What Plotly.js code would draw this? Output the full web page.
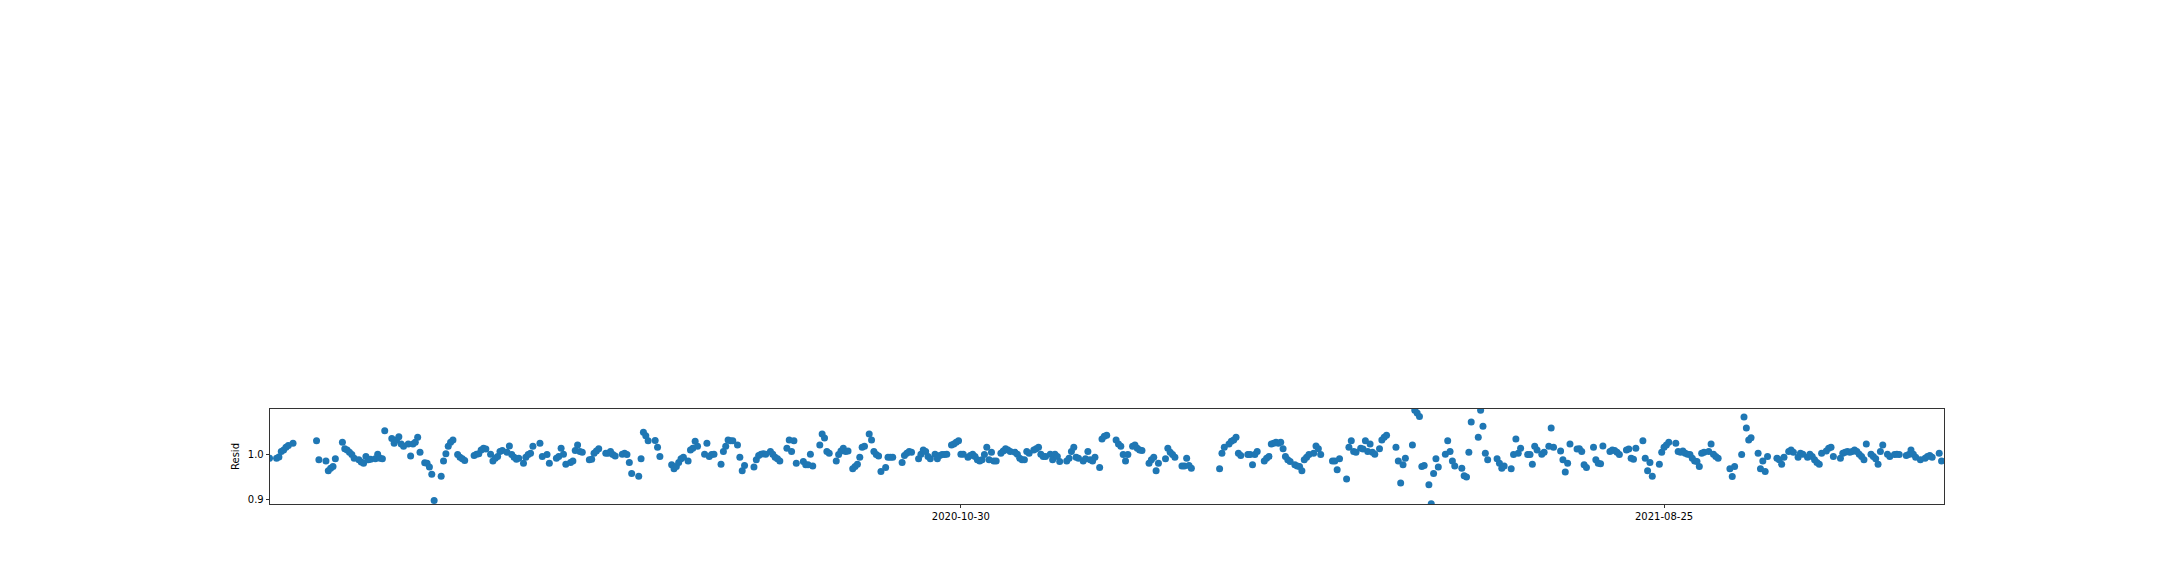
<!DOCTYPE html>
<html>
<head>
<meta charset="utf-8">
<script src="https://cdn.plot.ly/plotly-3.0.1.min.js"></script>
<style>
  html, body { margin: 0; padding: 0; background: #fff; }
  #residChart { width: 2160px; height: 576px; }
</style>
</head>
<body>
<div id="residChart"></div>
<script>
    // --- DATA: residual component (multiplicative decomposition) ---
    // dates are kept as day numbers counted from startDate
    const startDate = '2020-01-10';

    const residDays = [
        0, 3, 4, 5, 6, 7, 8, 10,
        20, 21, 24, 25, 26, 27, 28,
        31, 32, 33, 34, 35, 36,
        38, 39, 40, 41, 42, 43,
        45, 46, 47, 48, 49,
        52, 53, 54, 55, 56, 57,
        59, 60, 61, 62, 63, 64,
        66, 67, 68, 69, 70,
        73, 74, 75, 76, 77, 78,
        80, 81, 82, 83,
        87, 88, 89, 90, 91, 92,
        94, 95, 96, 97, 98, 99,
        101, 102, 103, 104, 105, 106,
        108, 109, 110, 111, 112,
        115, 116, 118, 119,
        122, 123, 124, 125, 126,
        128, 129, 130, 131, 132, 133,
        136, 137, 138, 139, 140,
        143, 144, 145, 146, 147,
        150, 151, 152, 153, 154,
        157, 158, 159, 160, 161,
        164, 165, 166,
        171, 172, 173, 174, 175, 176,
        178, 179, 180, 181, 182,
        185, 186, 187, 188, 189,
        192, 193, 194, 195, 196, 197,
        199, 200, 201, 202,
        206, 207, 208, 209, 210, 211,
        213, 214, 215, 216, 217,
        220, 221, 222, 223, 224,
        227, 228, 229, 230, 231,
        234, 235, 236, 237,
        238, 241, 242, 243, 244, 245, 246,
        248, 249, 250, 251, 252, 253,
        255, 256, 257, 258, 259, 260,
        262, 263, 264, 265,
        269, 270, 271, 272, 273,
        276, 277, 278, 279, 280, 281,
        283, 284, 285, 286, 287, 288,
        290, 291, 292, 293, 294, 295,
        297, 298, 299, 300, 301, 302,
        303, 304, 305, 306, 307, 308, 309,
        311, 312, 313, 314, 315,
        317, 318, 319, 320, 321, 322, 323,
        325, 326, 327, 328, 329, 330,
        332, 333, 334, 335, 336,
        339, 340, 341, 342, 343, 344,
        346, 347, 348, 349, 350, 351,
        353, 354, 355, 356,
        360, 361, 362, 363, 364, 365,
        367, 368, 369, 370, 371,
        374, 375, 376, 377, 378,
        381, 382, 383, 384, 385,
        388, 389, 390, 391, 392,
        404, 405, 406,
        408, 409, 410, 411, 412, 413,
        416, 417, 418, 419, 420,
        423, 424, 425, 426, 427, 428, 429, 430, 431, 432, 433, 434,
        436, 437, 438, 439, 440, 441, 442,
        444, 445, 446, 447,
        452, 453, 454, 455,
        458, 459, 460, 461, 462,
        464, 465, 466, 467, 468, 469, 470,
        472, 473, 474, 475,
        479, 480, 481, 482, 483,
        486, 487, 488, 489, 490, 491,
        493, 494, 495, 496, 497,
        500, 501, 502, 503, 504,
        507, 508, 509, 510, 511,
        514, 515, 516, 517, 518,
        522, 523, 524, 525,
        528, 529, 530, 531, 532,
        535, 536, 537, 538, 539,
        541, 542, 544, 545, 546,
        549, 550, 551, 552, 553,
        556, 557, 558, 559, 560,
        563, 564, 565, 566, 567,
        570, 571, 572, 573, 574,
        577, 578, 579, 580, 581,
        584, 585, 586, 587, 588,
        591, 592, 593, 594, 595,
        598, 599, 600, 601, 602, 603,
        604, 605, 606, 607, 608, 609, 610,
        612, 613, 614, 615, 616,
        621, 622, 623,
        626, 627, 628, 629, 630,
        633, 634, 635, 636, 637,
        641, 642, 643, 644,
        646, 647, 648, 650, 651, 652,
        654, 655, 656, 657, 658, 659,
        660, 662, 663, 664, 665,
        668, 669, 670, 671, 672, 673, 674, 675, 676, 677, 678, 679,
        681, 682, 683, 684, 685, 686,
        688, 689, 691, 692, 693,
        696, 697, 698, 699, 700,
        702, 704, 705, 706, 707,
        710, 711
    ];

    const residValues = [
        0.991, 0.991, 0.994, 1.006, 1.009, 1.015, 1.019, 1.024,
        1.029, 0.988, 0.985, 0.964, 0.969, 0.973, 0.990,
        1.026, 1.012, 1.009, 1.004, 0.999, 0.991,
        0.988, 0.983, 0.980, 0.995, 0.988, 0.989,
        0.990, 1.000, 0.991, 0.990, 1.051,
        1.034, 1.024, 1.031, 1.038, 1.022, 1.017,
        1.022, 0.996, 1.022, 1.026, 1.037, 1.004,
        0.981, 0.980, 0.972, 0.956, 0.899,
        0.952, 0.985, 1.001, 1.017, 1.026, 1.031,
        0.999, 0.993, 0.990, 0.986,
        0.997, 1.000, 1.001, 1.009, 1.013, 1.011,
        1.000, 0.985, 0.991, 0.995, 1.006, 1.008,
        1.004, 1.018, 0.999, 0.993, 0.989, 0.991,
        0.980, 0.993, 0.999, 1.002, 1.017,
        1.024, 0.995, 0.999, 0.980,
        0.991, 0.995, 1.013, 1.000, 0.978,
        0.982, 0.985, 1.008, 1.020, 1.006, 1.004,
        0.988, 0.989, 1.002, 1.007, 1.012,
        1.002, 1.002, 1.006, 0.999, 0.996,
        1.000, 1.002, 0.999, 0.982, 0.958,
        0.952, 0.990, 1.048, 1.040, 1.029,
        1.030, 1.015, 0.995,
        0.977, 0.968, 0.973, 0.982, 0.990, 0.993,
        0.985, 1.009, 1.013, 1.028, 1.017,
        1.000, 1.024, 0.995, 0.999, 1.000,
        0.978, 1.006, 1.017, 1.031, 1.029, 1.029,
        1.020, 0.993, 0.964, 0.975,
        0.972, 0.988, 0.997, 1.000, 1.001, 1.000,
        1.006, 1.000, 0.993, 0.990, 0.985,
        1.013, 1.031, 1.006, 1.029, 0.980,
        0.984, 0.977, 0.977, 1.000, 0.974,
        1.020, 1.044, 1.035, 1.006,
        1.002, 0.985, 0.999, 1.007, 1.013, 1.006, 1.007,
        0.968, 0.973, 0.978, 0.993, 1.015, 1.017,
        1.044, 1.031, 1.006, 0.999, 0.996, 0.962,
        0.971, 0.993, 0.993, 0.993,
        0.982, 0.997, 1.002, 1.006, 1.004,
        0.990, 1.000, 1.009, 1.006, 0.995, 0.990,
        1.000, 0.990, 0.997, 0.999, 0.999, 1.000,
        1.020, 1.022, 1.026, 1.029, 1.000, 1.000,
        0.993, 0.997, 1.000, 0.995, 0.988, 0.985,
        0.988, 0.999, 1.015, 0.988, 1.004, 0.985, 0.985,
        1.002, 1.007, 1.012, 1.009, 1.006,
        1.004, 1.000, 0.991, 0.988, 0.988, 1.006, 1.002,
        1.009, 1.012, 1.015, 1.000, 0.995, 0.995,
        1.000, 0.988, 1.000, 0.995, 0.984,
        0.985, 0.991, 1.006, 1.015, 0.993, 0.991,
        0.985, 0.990, 1.006, 0.988, 0.985, 0.993,
        0.971, 1.033, 1.039, 1.041,
        1.031, 1.022, 1.017, 0.999, 0.985, 0.999,
        1.017, 1.020, 1.013, 1.009, 1.008,
        0.980, 0.988, 0.993, 0.964, 0.980,
        0.990, 1.013, 1.004, 0.999, 0.993,
        0.974, 0.974, 0.991, 0.975, 0.969,
        0.968, 1.002, 1.015,
        1.022, 1.028, 1.031, 1.037, 1.002, 0.997,
        0.999, 0.999, 0.977, 0.999, 1.006,
        0.985, 0.991, 0.995, 1.022, 1.024, 1.026, 1.024, 1.026, 1.012, 0.995, 0.988, 0.984,
        0.977, 0.974, 0.973, 0.964, 0.988, 0.993, 0.999,
        1.002, 1.018, 1.012, 0.999,
        0.985, 0.985, 0.966, 0.990,
        0.946, 1.015, 1.029, 1.006, 1.004,
        1.013, 1.011, 1.029, 1.006, 1.022, 1.004, 1.000,
        1.012, 1.031, 1.037, 1.041,
        1.015, 0.985, 0.937, 0.977, 0.991,
        1.020, 1.096, 1.090, 1.082, 0.973, 0.975,
        0.933, 0.892, 0.958, 0.990, 0.972,
        1.000, 1.029, 1.006, 0.985, 0.974,
        0.969, 0.953, 0.950, 1.004, 1.070,
        1.037, 1.096, 1.061, 1.002, 0.988,
        0.990, 0.980, 0.969, 0.974,
        0.968, 0.999, 1.033, 1.002, 1.013,
        0.999, 0.999, 0.978, 1.017, 1.009,
        1.000, 1.004, 1.017, 1.057, 1.015,
        1.007, 0.988, 0.961, 0.980, 1.022,
        1.011, 1.012, 1.006, 0.977, 0.971,
        1.015, 0.988, 0.980, 0.979, 1.018,
        1.006, 1.009, 1.008, 1.004, 0.999,
        1.009, 1.011, 0.991, 0.989, 1.013,
        1.029, 0.991, 0.964, 0.982, 0.952,
        0.978, 1.004, 1.015, 1.020, 1.026,
        1.024, 1.006, 1.004, 1.007, 1.002, 1.000,
        0.999, 0.991, 0.985, 0.984, 0.973, 1.002, 1.004,
        1.006, 1.022, 1.000, 0.995, 0.991,
        0.968, 0.951, 0.973,
        0.999, 1.081, 1.057, 1.031, 1.036,
        1.002, 0.968, 0.985, 0.962, 0.995,
        0.991, 0.988, 0.978, 0.993,
        1.006, 1.009, 1.004, 0.993, 1.002, 1.000,
        0.993, 1.000, 0.995, 0.988, 0.982, 0.978,
        1.002, 1.007, 1.013, 1.015, 0.995,
        0.991, 1.002, 1.004, 1.006, 1.004, 1.006, 1.009, 1.006, 1.000, 0.995, 0.988, 1.022,
        1.000, 0.995, 0.990, 0.978, 1.006, 1.020,
        1.000, 0.995, 0.999, 1.000, 0.999,
        0.997, 0.999, 1.009, 1.000, 0.993,
        0.988, 0.991, 0.995, 0.997, 0.993,
        1.002, 0.985
    ];

    const xTickDates = ['2020-10-30', '2021-08-25'];
    const yTickValues = [0.9, 1.0];
    const yTickLabels = ['0.9', '1.0'];

    // --- UTILITY: day number -> ISO date ---
    function dayToDate(n) {
        const t0 = Date.parse(startDate + 'T00:00:00Z');
        return new Date(t0 + n * 86400000).toISOString().slice(0, 10);
    }

    const residDates = residDays.map(dayToDate);

    const axisFont = { family: 'DejaVu Sans, sans-serif', size: 10, color: '#000000' };

    const residTrace = {
        type: 'scatter',
        mode: 'markers',
        x: residDates,
        y: residValues,
        marker: { color: '#1f77b4', size: 7, line: { width: 0 } },
        cliponaxis: true,
        hoverinfo: 'x+y'
    };

    const residLayout = {
        width: 2160,
        height: 576,
        autosize: false,
        showlegend: false,
        margin: { l: 270, r: 216, t: 409, b: 72, pad: 0 },
        paper_bgcolor: '#ffffff',
        plot_bgcolor: '#ffffff',
        font: axisFont,
        xaxis: {
            type: 'date',
            range: ['2020-01-10 05:00', '2021-12-22 01:00'],
            tickmode: 'array',
            tickvals: xTickDates,
            ticktext: xTickDates,
            ticks: 'outside',
            ticklen: 3.5,
            tickwidth: 0.8,
            tickcolor: '#000000',
            tickfont: axisFont,
            showline: true,
            mirror: true,
            linecolor: '#000000',
            linewidth: 0.8,
            showgrid: false,
            zeroline: false
        },
        yaxis: {
            range: [0.8912, 1.0985],
            tickmode: 'array',
            tickvals: yTickValues,
            ticktext: yTickLabels,
            ticks: 'outside',
            ticklen: 3.5,
            tickwidth: 0.8,
            tickcolor: '#000000',
            tickfont: axisFont,
            showline: true,
            mirror: true,
            linecolor: '#000000',
            linewidth: 0.8,
            showgrid: false,
            zeroline: false,
            title: { text: 'Resid', font: axisFont, standoff: 6 }
        }
    };

    Plotly.newPlot('residChart', [residTrace], residLayout, { displayModeBar: false, staticPlot: true });
</script>
</body>
</html>
